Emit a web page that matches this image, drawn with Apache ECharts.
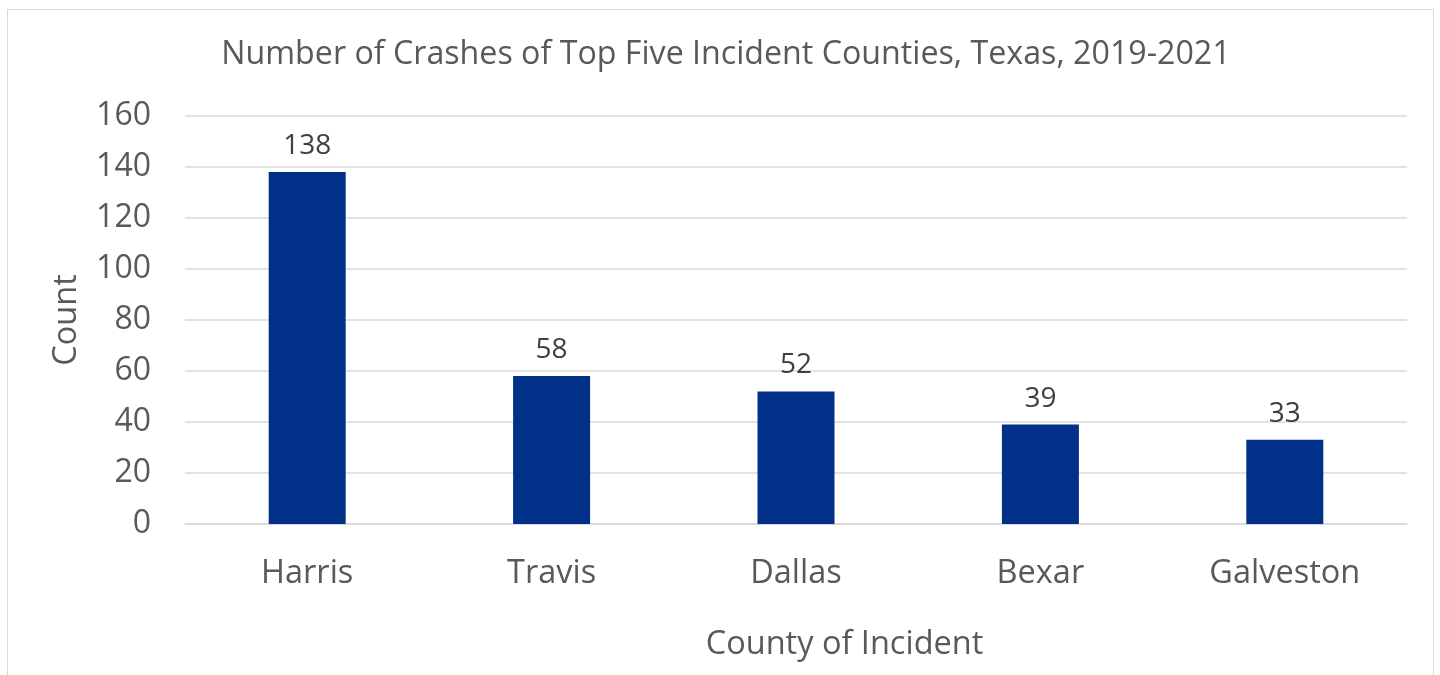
<!DOCTYPE html>
<html><head><meta charset="utf-8">
<script src="https://cdn.jsdelivr.net/npm/echarts@6/dist/echarts.min.js"></script>
<style>html,body{margin:0;padding:0;background:#fff;}#c{width:1440px;height:675px;}
#frame{position:absolute;left:7px;top:9px;width:1427px;height:700px;border:1.5px solid #d9d9d9;box-sizing:border-box;pointer-events:none;}</style>
</head><body>
<div id="c"></div><div id="frame"></div>
<script>
const categories = ['Harris', 'Travis', 'Dallas', 'Bexar', 'Galveston'];
const counts = [138, 58, 52, 39, 33];
const yTicks = [0, 20, 40, 60, 80, 100, 120, 140, 160];

const font = '"Open Sans", "Noto Sans", sans-serif';
const chart = echarts.init(document.getElementById('c'));
chart.setOption({
  animation: false,
  title: {
    text: 'Number of Crashes of Top Five Incident Counties, Texas, 2019-2021',
    left: 721, top: 34, textAlign: 'center',
    textStyle: { fontFamily: font, fontSize: 32.2, fontWeight: 'normal', color: '#595959' }
  },
  grid: { left: 185, right: 33, top: 116, bottom: 151 },
  xAxis: {
    type: 'category', data: categories,
    name: 'County of Incident', nameLocation: 'middle', nameGap: 104,
    nameTextStyle: { fontFamily: font, fontSize: 32.5, color: '#595959', padding: [0, 0, 0, 97] },
    axisLine: { show: true, lineStyle: { color: '#d9d9d9', width: 1.5 } },
    axisTick: { show: false },
    axisLabel: { fontFamily: font, fontSize: 32.5, color: '#595959', margin: 33 }
  },
  yAxis: {
    type: 'value', min: yTicks[0], max: yTicks[yTicks.length - 1], interval: 20,
    name: 'Count', nameLocation: 'middle', nameGap: 102, nameRotate: 90,
    nameTextStyle: { fontFamily: font, fontSize: 32.5, color: '#595959' },
    axisLine: { show: false }, axisTick: { show: false },
    axisLabel: { fontFamily: font, fontSize: 32, color: '#595959', margin: 34 },
    splitLine: { lineStyle: { color: '#d9d9d9', width: 1.5 } }
  },
  series: [{
    type: 'bar', data: counts, barWidth: '31.5%',
    itemStyle: { color: '#003087' },
    label: { show: true, position: 'top', distance: 12, fontFamily: font, fontSize: 28, color: '#404040' }
  }]
});
</script>
</body></html>
